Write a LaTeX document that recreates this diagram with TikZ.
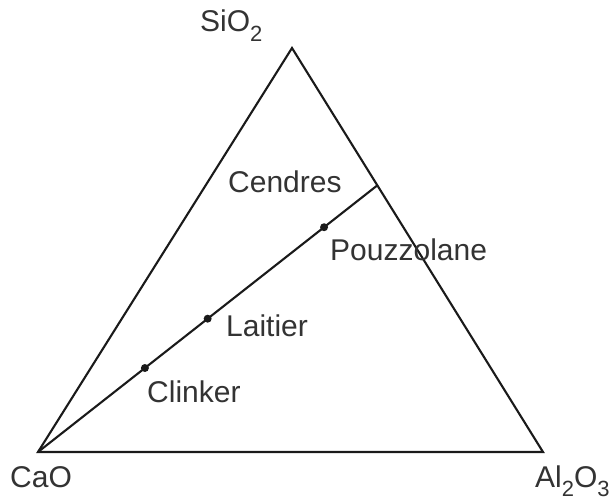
\documentclass[tikz,border=0pt]{standalone}
\usepackage{fontspec}
\setmainfont{Liberation Sans}
\usepackage{xcolor}
\usepackage{tikz}
\usetikzlibrary{calc,positioning}
\definecolor{ink}{HTML}{1A1A1A}
\definecolor{txt}{HTML}{333333}
\newcommand\chemsub[1]{\raisebox{-0.33em}{\fontsize{22}{22}\selectfont #1}}
\tikzset{
  side/.style={draw=ink,line width=2.1pt,line join=miter},
  mix/.style={draw=ink,line width=2.1pt},
  lbl/.style={font=\fontsize{30}{34}\selectfont,text=txt,inner sep=0pt,anchor=base west},
  pt/.style={circle,fill=ink,inner sep=0pt,minimum size=8pt}
}
\begin{document}
\begin{tikzpicture}[x=1pt,y=-1pt]
  \useasboundingbox (0,0) rectangle (610,503);
  % corners of the ternary diagram
  \coordinate (cao) at (38,452);
  \coordinate (sio) at (292,48);
  \coordinate (al) at (543,452);
  \coordinate (edge) at ($(sio)!0.34!(al)$);
  \draw[side] (cao) -- (sio) -- (al) -- cycle;
  \draw[mix] (cao) -- (edge);
  % materials along the mixing line
  \node[pt] (clk) at ($(cao)!0.315!(edge)$) {};
  \node[pt] (lai) at ($(cao)!0.50!(edge)$) {};
  \node[pt] (pzl) at ($(cao)!0.843!(edge)$) {};
  % labels
  \node[lbl] (lsio) at (200,32) {SiO\chemsub{2}};
  \node[lbl] (lcao) at (10,487) {CaO};
  \node[lbl] (lal) at (535,487) {Al\chemsub{2}O\chemsub{3}};
  \node[lbl] (lcen) at (228,192) {Cendres};
  \node[lbl] (lpzl) at (330,260) {Pouzzolane};
  \node[lbl] (llai) at (226,336) {Laitier};
  \node[lbl] (lclk) at (147,402) {Clinker};
\end{tikzpicture}
\end{document}
